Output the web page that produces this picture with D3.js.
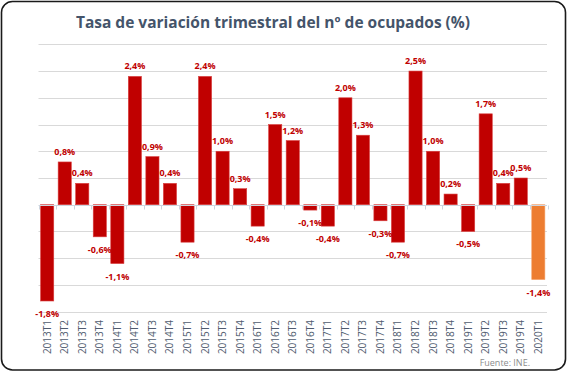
<!DOCTYPE html>
<html>
<head>
<meta charset="utf-8">
<script src="https://cdn.jsdelivr.net/npm/d3@7"></script>
<style>
	body { margin: 0; background: #fff; }
	svg { display: block; font-family: "Open Sans", sans-serif; }
</style>
</head>
<body>
<svg width="568" height="373"></svg>
<script>
	var quarters = ["2013T1", "2013T2", "2013T3", "2013T4", "2014T1", "2014T2", "2014T3", "2014T4",
		"2015T1", "2015T2", "2015T3", "2015T4", "2016T1", "2016T2", "2016T3", "2016T4",
		"2017T1", "2017T2", "2017T3", "2017T4", "2018T1", "2018T2", "2018T3", "2018T4",
		"2019T1", "2019T2", "2019T3", "2019T4", "2020T1"];
	var values = [-1.8, 0.8, 0.4, -0.6, -1.1, 2.4, 0.9, 0.4,
		-0.7, 2.4, 1.0, 0.3, -0.4, 1.5, 1.2, -0.1,
		-0.4, 2.0, 1.3, -0.3, -0.7, 2.5, 1.0, 0.2,
		-0.5, 1.7, 0.4, 0.5, -1.4];
	var gridTicks = [-2, -1.5, -1, -0.5, 0, 0.5, 1, 1.5, 2, 2.5, 3];
	var highlight = "2020T1";

	var svg = d3.select("svg");
	var data = quarters.map(function(q, i) { return { q: q, v: values[i] }; });

	// chart frame
	svg.append("rect")
		.attr("x", 1.5).attr("y", 1.5)
		.attr("width", 564).attr("height", 368.5)
		.attr("rx", 11)
		.attr("fill", "#fff")
		.attr("stroke", "#1a1a1a")
		.attr("stroke-width", 1.6);

	svg.append("text")
		.attr("x", 273).attr("y", 28)
		.attr("text-anchor", "middle")
		.attr("fill", "#44546A")
		.style("font-size", "15.5px")
		.style("font-weight", "bold")
		.text("Tasa de variación trimestral del nº de ocupados (%)");

	var x = d3.scaleBand()
		.domain(quarters)
		.range([38.5, 547])
		.paddingInner(0.25)
		.paddingOuter(0.12);

	var y = d3.scaleLinear()
		.domain([-2, 3])
		.range([311.7, 44.3]);

	// gridlines
	svg.append("g")
		.selectAll("line")
		.data(gridTicks.filter(function(d) { return d !== 0; }))
		.enter().append("line")
		.attr("x1", 38.5).attr("x2", 547)
		.attr("y1", function(d) { return Math.round(y(d)) + 0.5; })
		.attr("y2", function(d) { return Math.round(y(d)) + 0.5; })
		.attr("stroke", "#D9D9D9");

	// bars
	svg.append("g")
		.selectAll("rect")
		.data(data)
		.enter().append("rect")
		.attr("x", function(d) { return x(d.q); })
		.attr("width", x.bandwidth())
		.attr("y", function(d) { return y(Math.max(0, d.v)); })
		.attr("height", function(d) { return Math.abs(y(d.v) - y(0)); })
		.attr("fill", function(d) { return d.q === highlight ? "#ED7D31" : "#C00000"; })
		.attr("stroke", function(d) { return d.q === highlight ? "#F4A46E" : "#D94040"; })
		.attr("stroke-width", 0.6);

	// zero axis with category ticks
	var y0 = Math.round(y(0)) + 0.5;
	var axis = svg.append("g");
	axis.append("line")
		.attr("x1", 38.5).attr("x2", 547)
		.attr("y1", y0).attr("y2", y0)
		.attr("stroke", "#CDD5DF");
	axis.selectAll(".tk")
		.data(d3.range(quarters.length + 1))
		.enter().append("line")
		.attr("class", "tk")
		.attr("x1", function(i) { return Math.round(38.5 + i * (509 / quarters.length)) + 0.5; })
		.attr("x2", function(i) { return Math.round(38.5 + i * (509 / quarters.length)) + 0.5; })
		.attr("y1", y0).attr("y2", y0 + 4)
		.attr("stroke", "#CDD5DF");

	// value labels
	var fmt = function(v) { return d3.format(".1f")(v).replace(".", ",").replace("−", "-") + "%"; };
	svg.append("g")
		.selectAll("text")
		.data(data)
		.enter().append("text")
		.attr("x", function(d) { return x(d.q) + x.bandwidth() / 2; })
		.attr("y", function(d) { return d.v >= 0 ? y(d.v) - 7 : y(d.v) + 16; })
		.attr("text-anchor", "middle")
		.attr("fill", "#C00000")
		.style("font-size", "9px")
		.style("font-weight", "bold")
		.text(function(d) { return fmt(d.v); });

	// category labels, rotated
	svg.append("g")
		.selectAll("text")
		.data(quarters)
		.enter().append("text")
		.attr("transform", function(d) { return "translate(" + (x(d) + x.bandwidth() / 2 + 3.5) + ",320) rotate(-90)"; })
		.attr("text-anchor", "end")
		.attr("fill", "#4F5B6E")
		.style("font-size", "10px")
		.text(function(d) { return d; });

	svg.append("text")
		.attr("x", 530).attr("y", 366)
		.attr("text-anchor", "end")
		.attr("fill", "#8C8C8C")
		.style("font-size", "9px")
		.text("Fuente: INE.");
</script>
</body>
</html>
